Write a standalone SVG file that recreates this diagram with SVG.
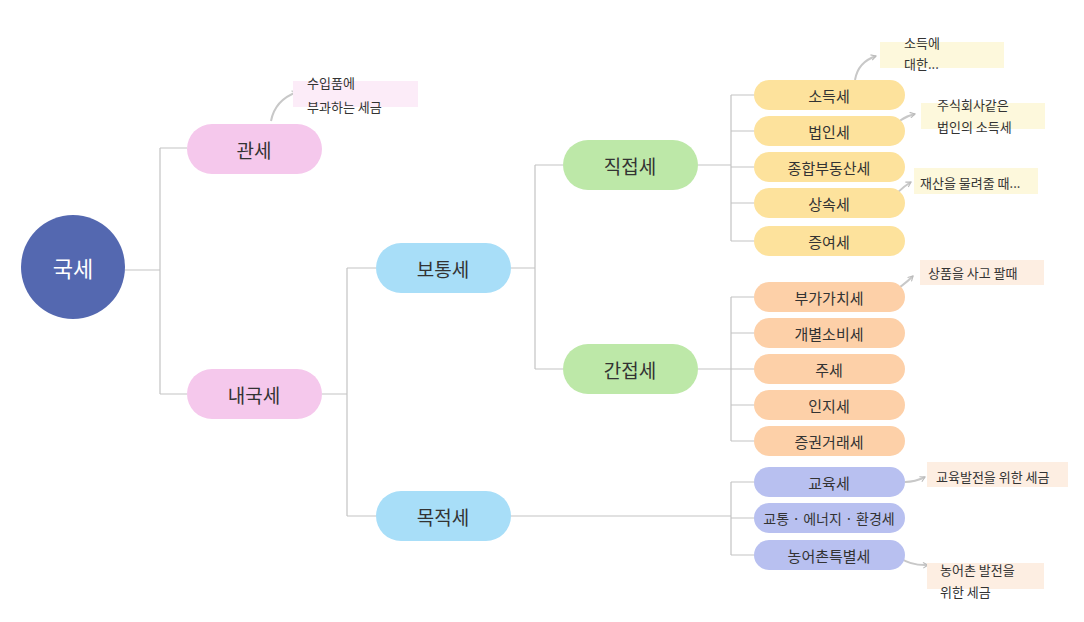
<svg xmlns="http://www.w3.org/2000/svg" width="1084" height="622" viewBox="0 0 1084 622">
<defs>
<marker id="ah" viewBox="0 0 10 10" refX="8" refY="5" markerWidth="7" markerHeight="7" orient="auto" markerUnits="userSpaceOnUse"><path d="M1,1 L8,5 L1,9" fill="none" stroke="#bbb" stroke-width="1.6"/></marker>
</defs>
<style>
text{font-family:"Noto Sans CJK KR","Noto Sans",sans-serif;fill:#333;text-anchor:middle;dominant-baseline:central}
.big{font-size:19px}
.sm{font-size:15px}
.note{font-size:13px;text-anchor:start}
.ln{fill:none;stroke:#c4c4c4;stroke-width:1.2}
.ar{fill:none;stroke:#c8c8c8;stroke-width:2;marker-end:url(#ah)}
.y{fill:#fde29c}.o{fill:#fdd0a8}.p{fill:#b8c0f0}
</style>
<rect width="1084" height="622" fill="#fff"/>
<g id="connectors">
<path class="ln" d="M125,270H160M160,148V394M160,148H187M160,394H187"/>
<path class="ln" d="M322,394H347M347,268V516M347,268H376M347,516H376"/>
<path class="ln" d="M511,268H535M535,165V369M535,165H563M535,369H563"/>
<path class="ln" d="M698,165H731M731,95V241M731,95H754M731,131H754M731,167H754M731,203H754M731,241H754"/>
<path class="ln" d="M698,369H731M731,297V441M731,297H754M731,333H754M731,369H754M731,405H754M731,441H754"/>
<path class="ln" d="M511,516H731M731,482V555M731,482H754M731,518H754M731,555H754"/>
<path class="ar" d="M271,121Q275,100 297,92"/>
<path class="ar" d="M855,80Q858,62 876,56"/>
<path class="ar" d="M893,130Q898,118 915,114"/>
<path class="ar" d="M889,203Q898,190 911,182"/>
<path class="ar" d="M890,293Q902,287 913,276"/>
<path class="ar" d="M905,482Q915,482 925,477"/>
<path class="ar" d="M900,558Q912,566 928,565"/>
</g>
<g id="n-gukse"><circle cx="73" cy="267" r="52" fill="#5468b0"/><text x="73" y="267" font-size="22" style="fill:#fff">국세</text></g>
<g id="n-gwanse"><rect x="187" y="124" width="135" height="50" rx="25" fill="#f5c8ec"/><text class="big" x="254" y="149">관세</text></g>
<g id="n-naeguk"><rect x="187" y="369" width="135" height="50" rx="25" fill="#f5c8ec"/><text class="big" x="254" y="394">내국세</text></g>
<g id="n-botong"><rect x="376" y="243" width="135" height="50" rx="25" fill="#a8def8"/><text class="big" x="443" y="268">보통세</text></g>
<g id="n-mokjeok"><rect x="376" y="491" width="135" height="50" rx="25" fill="#a8def8"/><text class="big" x="443" y="516">목적세</text></g>
<g id="n-jikjeop"><rect x="563" y="140" width="135" height="50" rx="25" fill="#bde8a8"/><text class="big" x="630" y="165">직접세</text></g>
<g id="n-ganjeop"><rect x="563" y="344" width="135" height="50" rx="25" fill="#bde8a8"/><text class="big" x="630" y="369">간접세</text></g>
<g id="n1"><rect class="y" x="754" y="80" width="151" height="30" rx="15"/><text class="sm" x="829" y="95">소득세</text></g>
<g id="n2"><rect class="y" x="754" y="116" width="151" height="30" rx="15"/><text class="sm" x="829" y="131">법인세</text></g>
<g id="n3"><rect class="y" x="754" y="152" width="151" height="30" rx="15"/><text class="sm" x="829" y="167">종합부동산세</text></g>
<g id="n4"><rect class="y" x="754" y="188" width="151" height="30" rx="15"/><text class="sm" x="829" y="203">상속세</text></g>
<g id="n5"><rect class="y" x="754" y="226" width="151" height="30" rx="15"/><text class="sm" x="829" y="241">증여세</text></g>
<g id="n6"><rect class="o" x="754" y="282" width="151" height="30" rx="15"/><text class="sm" x="829" y="297">부가가치세</text></g>
<g id="n7"><rect class="o" x="754" y="318" width="151" height="30" rx="15"/><text class="sm" x="829" y="333">개별소비세</text></g>
<g id="n8"><rect class="o" x="754" y="354" width="151" height="30" rx="15"/><text class="sm" x="829" y="369">주세</text></g>
<g id="n9"><rect class="o" x="754" y="390" width="151" height="30" rx="15"/><text class="sm" x="829" y="405">인지세</text></g>
<g id="n10"><rect class="o" x="754" y="426" width="151" height="30" rx="15"/><text class="sm" x="829" y="441">증권거래세</text></g>
<g id="n11"><rect class="p" x="754" y="467" width="151" height="30" rx="15"/><text class="sm" x="829" y="482">교육세</text></g>
<g id="n12"><rect class="p" x="754" y="503" width="151" height="30" rx="15"/><text x="829" y="518" font-size="14">교통 · 에너지 · 환경세</text></g>
<g id="n13"><rect class="p" x="754" y="540" width="151" height="30" rx="15"/><text class="sm" x="829" y="555">농어촌특별세</text></g>
<g id="notes">
<rect x="293" y="81" width="125" height="26" fill="#fcecf8"/><text class="note" x="307" y="82">수입품에</text><text class="note" x="307" y="106">부과하는 세금</text>
<rect x="880" y="42" width="124" height="26" fill="#fdf8dc"/><text class="note" x="904" y="42">소득에</text><text class="note" x="904" y="63">대한...</text>
<rect x="921" y="103" width="124" height="26" fill="#fdf8dc"/><text class="note" x="937" y="104">주식회사같은</text><text class="note" x="937" y="126">법인의 소득세</text>
<rect x="914" y="168" width="124" height="26" fill="#fdf8dc"/><text class="note" x="920" y="182">재산을 물려줄 때...</text>
<rect x="920" y="260" width="124" height="25" fill="#fdeee2"/><text class="note" x="928" y="272">상품을 사고 팔때</text>
<rect x="927" y="462" width="141" height="25" fill="#fdeee2"/><text class="note" x="936" y="476">교육발전을 위한 세금</text>
<rect x="927" y="563" width="117" height="26" fill="#fdeee2"/><text class="note" x="940" y="569">농어촌 발전을</text><text class="note" x="940" y="591">위한 세금</text>
</g>
</svg>
